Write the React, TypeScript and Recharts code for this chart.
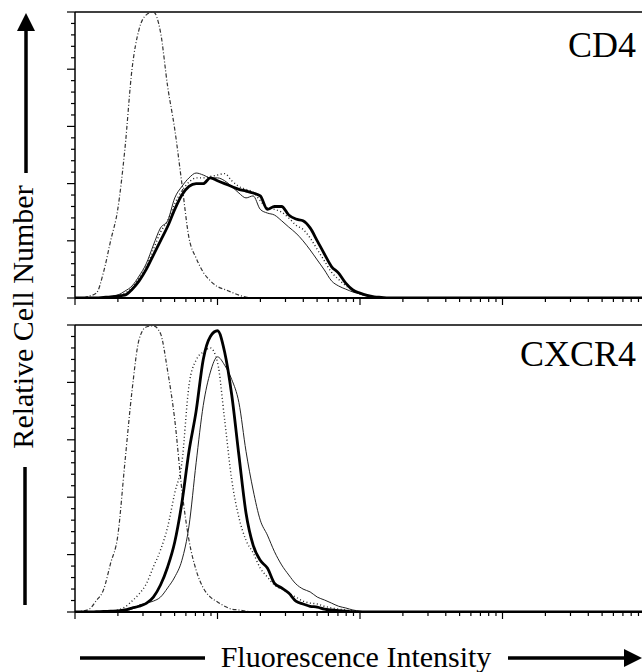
import React from 'react';
import { LineChart, Line, XAxis, YAxis, ReferenceLine } from 'recharts';

// log10 of fluorescence channel (decades), sampled every 0.05 up to 2.4, then the axis end
const logFl = [
    0, 0.05, 0.1, 0.15, 0.2, 0.25, 0.3, 0.35, 0.4, 0.45,
    0.5, 0.55, 0.6, 0.65, 0.7, 0.75, 0.8, 0.85, 0.9, 0.95,
    1.0, 1.05, 1.1, 1.15, 1.2, 1.25, 1.3, 1.35, 1.4, 1.45,
    1.5, 1.55, 1.6, 1.65, 1.7, 1.75, 1.8, 1.85, 1.9, 1.95,
    2.0, 2.05, 2.1, 2.15, 2.2, 2.25, 2.3, 2.35, 2.4, 4.0,
];

// CD4 panel
const cd4Isotype = [
    0, 0, 0.7, 1.7, 9, 20, 31, 52, 80, 94,
    99, 100, 93, 74, 59, 40, 21, 14, 9, 6,
    4, 3, 2, 1, 0.3, 0, 0, 0, 0, 0,
    0, 0, 0, 0, 0, 0, 0, 0, 0, 0,
    0, 0, 0, 0, 0, 0, 0, 0, 0, 0,
];
const cd4Thick = [
    0, 0, 0, 0, 0.2, 0.4, 0.7, 1, 3, 6,
    10, 15, 20, 25, 31, 36, 39, 40, 40, 42,
    41, 40, 39, 38, 37.4, 36.7, 35.7, 31, 32, 32,
    29, 27.6, 27, 24.5, 20, 15.4, 11, 8.7, 5.2, 2.8,
    1.7, 0.9, 0.4, 0.2, 0, 0, 0, 0, 0, 0,
];
const cd4Thin = [
    0, 0, 0, 0, 0.2, 0.4, 1, 2.4, 4.2, 7.7,
    12, 18.5, 24.5, 27, 35, 39, 42, 43.7, 43, 42,
    42, 41, 39, 36.7, 35, 35.7, 31, 29.7, 29, 27,
    24.8, 22.7, 20, 16.8, 13.3, 9.8, 6, 4.2, 3.1, 2.1,
    1.4, 0.7, 0.3, 0, 0, 0, 0, 0, 0, 0,
];
const cd4Dotted = [
    0, 0, 0, 0, 0.2, 0.4, 0.8, 1.7, 3.5, 7,
    11, 17, 23, 27, 33, 37.5, 40.5, 42, 42, 42.5,
    43, 43.5, 41, 39, 38, 37, 34, 31.5, 31, 30,
    28, 25.5, 24, 21, 17, 13, 9, 6.5, 4.3, 2.6,
    1.5, 0.8, 0.3, 0, 0, 0, 0, 0, 0, 0,
];

// CXCR4 panel
const cxcr4Isotype = [
    0, 0.3, 1, 4, 7.7, 17, 26.5, 52, 77, 95,
    99.3, 99.7, 97, 84, 67, 42.5, 25, 14.6, 8.4, 5.2,
    3.5, 2, 1, 0.7, 0.3, 0, 0, 0, 0, 0,
    0, 0, 0, 0, 0, 0, 0, 0, 0, 0,
    0, 0, 0, 0, 0, 0, 0, 0, 0, 0,
];
const cxcr4Thick = [
    0, 0, 0, 0.1, 0.2, 0.3, 0.4, 0.7, 1.4, 2,
    3, 5.2, 9.4, 15.7, 24.4, 38, 56, 70, 88, 96,
    98, 90.6, 75.6, 54.7, 34.5, 23.3, 18, 15.3, 10, 8.4,
    6.6, 3.8, 2.8, 2, 1.7, 1, 0.7, 0.5, 0.3, 0.1,
    0, 0, 0, 0, 0, 0, 0, 0, 0, 0,
];
const cxcr4Thin = [
    0, 0, 0, 0, 0, 0, 0.3, 0.5, 1, 2.4,
    3.1, 3.8, 5.2, 8.4, 12.2, 18, 30, 52, 72, 83.6,
    88.9, 86, 81, 73, 56, 42.5, 32, 26.8, 21, 16.4,
    12.9, 9.8, 8, 7, 5.2, 4.2, 3.1, 2, 1.4, 0.7,
    0.3, 0, 0, 0, 0, 0, 0, 0, 0, 0,
];
const cxcr4Dotted = [
    0, 0, 0, 0, 0, 0.3, 0.7, 1.7, 3.8, 6.3,
    9.8, 15.7, 21.6, 29.6, 41.5, 52, 79, 87.8, 90.6, 92,
    87, 67, 46, 33, 25, 20.6, 15.3, 12.2, 9.4, 8,
    6.6, 5.2, 3.8, 3.1, 2.8, 2, 1.4, 1, 0.7, 0.3,
    0, 0, 0, 0, 0, 0, 0, 0, 0, 0,
];

const decades = [0, 1, 2, 3];
const multipliers = [1, 2, 3, 4, 5, 6, 7, 8, 9];
const xTicks = [...decades.flatMap((d) => multipliers.map((m) => d + Math.log10(m))), 4];
const yTicks = Array.from({ length: 26 }, (_, i) => i * 4);

const serif = '"Liberation Serif", "DejaVu Serif", "Times New Roman", Times, serif';
const labelStyle = { fontFamily: serif };

const XTick = ({ x, y, payload }: any) => {
    const v = payload.value;
    const major = Math.abs(v - Math.round(v)) < 1e-6;
    return <line x1={x} x2={x} y1={y} y2={y + (major ? 7 : 4)} stroke="#000" strokeWidth={1.2} />;
};

const YTick = ({ x, y, payload }: any) => {
    const major = payload.value % 20 === 0;
    return <line x1={x} x2={x - (major ? 8 : 4)} y1={y} y2={y} stroke="#000" strokeWidth={1.2} />;
};

function Histogram({ iso, thin, thick, dotted, plotHeight }: any) {
    const data = logFl.map((x, i) => ({ x, iso: iso[i], thin: thin[i], thick: thick[i], dotted: dotted[i] }));
    return (
        <LineChart width={650} height={12 + plotHeight + 14} data={data} margin={{ top: 12, right: 5, bottom: 0, left: 0 }}>
            <XAxis
                dataKey="x"
                type="number"
                domain={[0, 4]}
                ticks={xTicks}
                interval={0}
                height={14}
                tickSize={0}
                tickMargin={0}
                tick={(p: any) => <XTick {...p} />}
                axisLine={{ stroke: '#000', strokeWidth: 2 }}
            />
            <YAxis
                type="number"
                domain={[0, 100]}
                ticks={yTicks}
                interval={0}
                width={75}
                tickSize={0}
                tickMargin={0}
                tick={(p: any) => <YTick {...p} />}
                axisLine={{ stroke: '#000', strokeWidth: 1.5 }}
                allowDataOverflow
            />
            <ReferenceLine y={100} stroke="#000" strokeWidth={1.5} />
            <Line type="monotone" dataKey="iso" stroke="#333" strokeWidth={1.2} strokeDasharray="4 2 1 2" dot={false} isAnimationActive={false} />
            <Line type="monotone" dataKey="dotted" stroke="#222" strokeWidth={1.4} strokeDasharray="1 2.5" dot={false} isAnimationActive={false} />
            <Line type="monotone" dataKey="thin" stroke="#222" strokeWidth={1} dot={false} isAnimationActive={false} />
            <Line type="monotone" dataKey="thick" stroke="#000" strokeWidth={2.8} dot={false} isAnimationActive={false} />
        </LineChart>
    );
}

export default function App() {
    return (
        <div style={{ position: 'fixed', left: 0, top: 0, width: 642, height: 672, overflow: 'hidden', background: '#fff' }}>
            <div style={{ position: 'absolute', left: 0, top: 0 }}>
                <Histogram iso={cd4Isotype} thin={cd4Thin} thick={cd4Thick} dotted={cd4Dotted} plotHeight={286} />
            </div>
            <div style={{ position: 'absolute', left: 0, top: 313 }}>
                <Histogram iso={cxcr4Isotype} thin={cxcr4Thin} thick={cxcr4Thick} dotted={cxcr4Dotted} plotHeight={287} />
            </div>
            <svg width={642} height={672} style={{ position: 'absolute', left: 0, top: 0, pointerEvents: 'none' }}>
                <text x={636} y={57} textAnchor="end" fontSize={36} style={labelStyle}>CD4</text>
                <text x={636} y={366} textAnchor="end" fontSize={36} style={labelStyle}>CXCR4</text>
                {/* y label with arrow */}
                <polygon points="26,13 17,31 35,31" fill="#000" />
                <line x1={26} x2={26} y1={30} y2={173} stroke="#000" strokeWidth={3.5} />
                <text x={33} y={317} transform="rotate(-90 33 317)" textAnchor="middle" fontSize={30} style={labelStyle}>
                    Relative Cell Number
                </text>
                <line x1={25} x2={25} y1={467} y2={605} stroke="#000" strokeWidth={3.5} />
                {/* x label with arrow */}
                <line x1={80} x2={205} y1={658} y2={658} stroke="#000" strokeWidth={3.5} />
                <text x={356} y={667} textAnchor="middle" fontSize={30} style={labelStyle}>
                    Fluorescence Intensity
                </text>
                <line x1={508} x2={628} y1={658} y2={658} stroke="#000" strokeWidth={3.5} />
                <polygon points="642,658 624,649 624,667" fill="#000" />
            </svg>
        </div>
    );
}
